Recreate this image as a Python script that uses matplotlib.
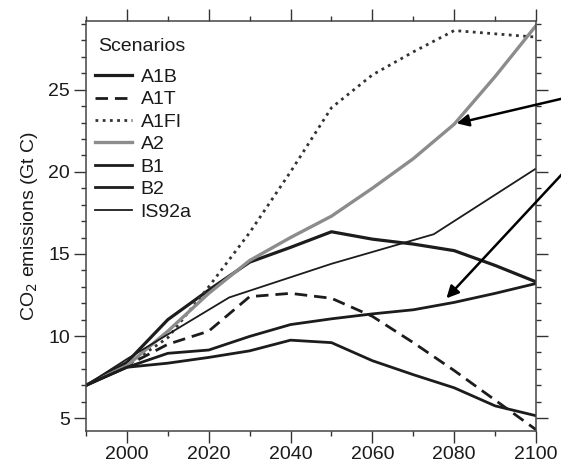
import numpy as np
import matplotlib
matplotlib.use("Agg")
import matplotlib.pyplot as plt
from matplotlib.ticker import MultipleLocator

plt.rcParams["font.family"] = ["Liberation Sans", "DejaVu Sans"]

# SRES CO2 emission scenarios (Gt C / yr)
years = [1990, 2000, 2010, 2020, 2030, 2040, 2050, 2060, 2070, 2080, 2090, 2100]
a1b = [7.0, 8.4, 11.0, 12.8, 14.5, 15.4, 16.35, 15.9, 15.6, 15.2, 14.3, 13.3]
a1t = [7.0, 8.2, 9.5, 10.3, 12.4, 12.6, 12.3, 11.2, 9.6, 7.9, 6.1, 4.3]
a1fi = [7.0, 8.2, 9.9, 13.0, 16.3, 20.0, 23.9, 25.9, 27.3, 28.6, 28.4, 28.2]
a2 = [7.0, 8.2, 10.3, 12.6, 14.6, 16.0, 17.3, 19.0, 20.8, 22.9, 25.8, 28.9]
b1 = [7.0, 8.1, 8.35, 8.7, 9.1, 9.75, 9.6, 8.5, 7.65, 6.85, 5.75, 5.15]
b2 = [7.0, 8.1, 8.95, 9.15, 9.98, 10.7, 11.05, 11.35, 11.6, 12.05, 12.6, 13.2]
is92a_years = [1990, 2000, 2025, 2050, 2075, 2100]
is92a = [7.0, 8.6, 12.35, 14.4, 16.2, 20.2]

# arrow targets (year, value) and where they come in from (off the right edge)
arrow_heads = [(2080.6, 22.95), (2078.1, 12.3)]
arrow_tails = [(2108, 24.55), (2108, 20.3)]

fig = plt.figure(figsize=(5.61, 4.68), dpi=100)
ax = fig.add_axes([0.1533, 0.0801, 0.8022, 0.8757])

dark = "#1c1c1c"
ax.plot(years, a1b, color=dark, lw=2.3, label="A1B")
ax.plot(years, a1t, color=dark, lw=2.0, ls=(0, (4.5, 2.5)), label="A1T")
ax.plot(years, a1fi, color="#333333", lw=2.0, ls=(0, (1, 1.6)), label="A1FI")
ax.plot(years, a2, color="#8c8c8c", lw=2.4, label="A2")
ax.plot(years, b1, color=dark, lw=2.0, label="B1")
ax.plot(years, b2, color=dark, lw=2.0, label="B2")
ax.plot(is92a_years, is92a, color=dark, lw=1.3, label="IS92a")

for head, tail in zip(arrow_heads, arrow_tails):
    ax.annotate("", xy=head, xytext=tail, annotation_clip=False,
                arrowprops=dict(arrowstyle="-|>", color="black", lw=1.8,
                                mutation_scale=18, shrinkA=0, shrinkB=0))

ax.set_xlim(1990, 2100)
ax.set_ylim(4.25, 29.2)
ax.xaxis.set_major_locator(MultipleLocator(20))
ax.xaxis.set_minor_locator(MultipleLocator(10))
ax.yaxis.set_major_locator(MultipleLocator(5))
ax.yaxis.set_minor_locator(MultipleLocator(1))
ax.tick_params(which="both", direction="out", top=True, right=True,
               colors="#333333", labelcolor="#1a1a1a", width=1.0, labelsize=14)
ax.tick_params(which="major", length=8.5, pad=3)
ax.tick_params(which="minor", length=3.6)
for sp in ax.spines.values():
    sp.set_color("#444444")
    sp.set_linewidth(1.1)

ax.set_ylabel("CO$_2$ emissions (Gt C)", fontsize=14, color="#1a1a1a", labelpad=6)

# legend title drawn separately so the gap to the first entry matches
ax.text(0.027, 0.9366, "Scenarios", transform=ax.transAxes, fontsize=14,
        color="#1a1a1a", ha="left", va="center")
leg = ax.legend(loc="upper left", bbox_to_anchor=(0.02, 0.884),
                frameon=False, fontsize=14,
                handlelength=1.9, handletextpad=0.45, labelspacing=0.25,
                borderpad=0, borderaxespad=0)
for t in leg.get_texts():
    t.set_color("#1a1a1a")

fig.savefig("out.png", dpi=100)
